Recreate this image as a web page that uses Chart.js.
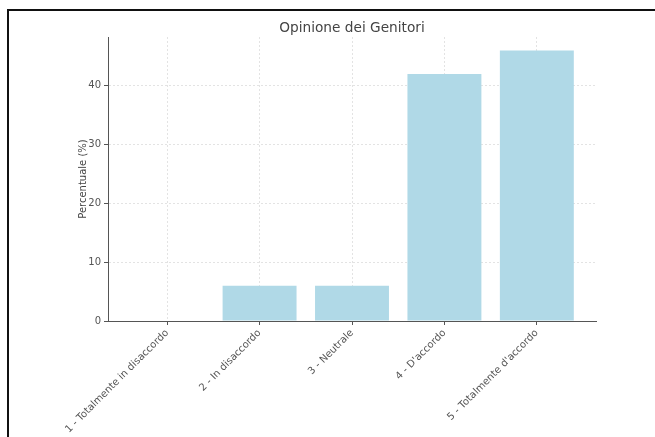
<!DOCTYPE html>
<html>
<head>
<meta charset="utf-8">
<script src="https://cdn.jsdelivr.net/npm/chart.js@4.4.1/dist/chart.umd.min.js"></script>
<style>
  html, body { margin: 0; padding: 0; background: #fff; }
  #wrap { position: relative; width: 655px; height: 437px; overflow: hidden; }
  #grafico { position: absolute; left: 0; top: 0; }
  #cornice { position: absolute; left: 7px; top: 9px; width: 700px; height: 500px;
             border-left: 2px solid #111; border-top: 2px solid #111; }
</style>
</head>
<body>
<div id="wrap">
  <canvas id="grafico" width="655" height="437"></canvas>
  <div id="cornice"></div>
</div>
<script>
const categorie = [
    '1 - Totalmente in disaccordo',
    '2 - In disaccordo',
    '3 - Neutrale',
    "4 - D'accordo",
    "5 - Totalmente d'accordo"
];
const percentuali = [0, 6, 6, 42, 46];
const tickY = [0, 10, 20, 30, 40];
const titolo = 'Opinione dei Genitori';

const testo = '#555';
const griglia = 'rgba(0, 0, 0, 0.11)';

// titolo centrato sull'area del grafico (come matplotlib)
const titoloPlugin = {
    id: 'titoloArea',
    afterDraw(chart) {
        const { ctx, chartArea } = chart;
        ctx.save();
        ctx.fillStyle = '#444';
        ctx.font = '13.7px "DejaVu Sans"';
        ctx.textAlign = 'center';
        ctx.textBaseline = 'middle';
        ctx.fillText(titolo, (chartArea.left + chartArea.right) / 2, 28);
        ctx.restore();
    }
};

const ctx = document.getElementById('grafico').getContext('2d');

new Chart(ctx, {
    type: 'bar',
    data: {
        datasets: [{
            label: 'Percentuale (%)',
            data: percentuali.map((v, i) => ({ x: i, y: v })),
            backgroundColor: 'rgba(173, 216, 230, 0.97)',
            borderWidth: 0,
            categoryPercentage: 1,
            barPercentage: 0.8
        }]
    },
    plugins: [titoloPlugin],
    options: {
        responsive: false,
        animation: false,
        layout: { padding: { left: 0, right: 59, top: 37, bottom: 0 } },
        plugins: {
            legend: { display: false },
            tooltip: { enabled: false },
            title: { display: false }
        },
        scales: {
            x: {
                type: 'linear',
                offset: false,
                min: -0.64,
                max: 4.64,
                afterBuildTicks: s => { s.ticks = categorie.map((_, i) => ({ value: i })); },
                afterFit: s => { s.height = 116; },
                ticks: {
                    autoSkip: false,
                    maxRotation: 45,
                    minRotation: 45,
                    color: testo,
                    padding: 2,
                    font: { family: 'DejaVu Sans', size: 10 },
                    callback: v => categorie[v] ?? ''
                },
                grid: {
                    offset: false,
                    color: griglia,
                    tickColor: '#555',
                    tickLength: 4
                },
                border: { display: true, color: '#555', width: 1, dash: [2, 2] }
            },
            y: {
                min: 0,
                max: 48.3,
                afterBuildTicks: s => { s.ticks = tickY.map(v => ({ value: v })); },
                afterFit: s => { s.width = 108; },
                title: {
                    display: true,
                    text: 'Percentuale (%)',
                    color: '#444',
                    font: { family: 'DejaVu Sans', size: 10 },
                    padding: { top: 77, bottom: 0 }
                },
                ticks: {
                    color: testo,
                    padding: 3,
                    font: { family: 'DejaVu Sans', size: 10 }
                },
                grid: {
                    color: griglia,
                    tickColor: '#555',
                    tickLength: 4
                },
                border: { display: true, color: '#555', width: 1, dash: [2, 2] }
            }
        }
    }
});
</script>
</body>
</html>
